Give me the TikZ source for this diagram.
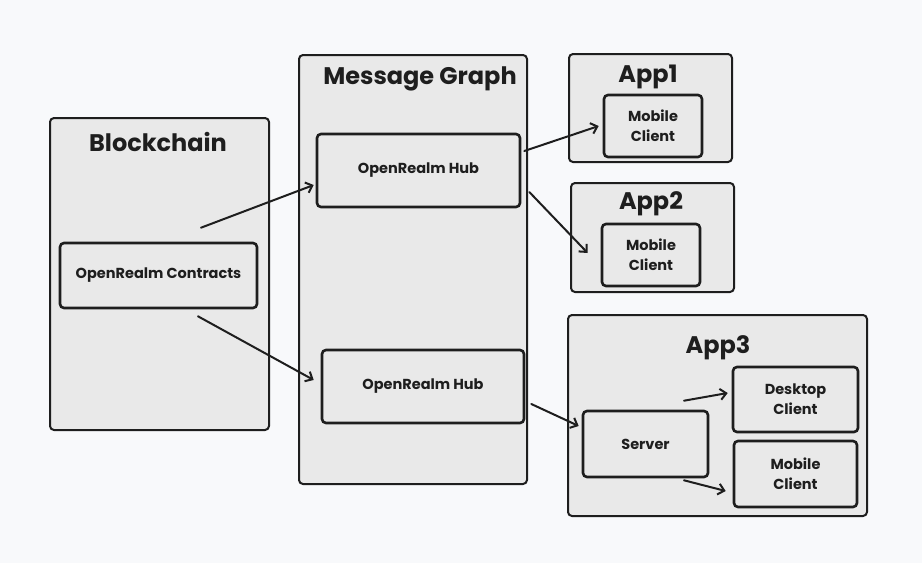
\documentclass[tikz,border=0pt]{standalone}
\usepackage{fontspec}
\setmainfont{Poppins}
\usetikzlibrary{arrows.meta}
\definecolor{bgpaper}{HTML}{F8F9FB}
\definecolor{boxfill}{HTML}{E9E9E9}
\definecolor{ink}{HTML}{1E1E1E}
\begin{document}
\begin{tikzpicture}[x=1pt, y=-1pt,
		group/.style={draw=ink, fill=boxfill, line width=2pt, rounded corners=4pt, inner sep=0pt},
		part/.style={draw=ink, fill=boxfill, line width=2.6pt, rounded corners=4pt, inner sep=0pt, align=center, font=\fontsize{14.5}{20}\selectfont\bfseries, text=ink},
		grouptitle/.style={font=\fontsize{24}{28}\selectfont\bfseries, text=ink},
		flow/.style={draw=ink, line width=2pt, line cap=round, -{Straight Barb[length=6pt, width=11pt, line width=2pt]}}]
		\useasboundingbox[fill=bgpaper] (0,0) rectangle (922,563);
		
		%--- groups
		\node[group, minimum width=219pt, minimum height=312pt] (chain) at (159.5,274) {};
		\node[grouptitle] (chaintitle) at (158,142) {Blockchain};
		\node[group, minimum width=228pt, minimum height=429pt] (graph) at (413,269.5) {};
		\node[grouptitle] (graphtitle) at (420,79) {Message Graph};
		\node[group, minimum width=163pt, minimum height=108pt] (appA) at (650.5,108) {};
		\node[grouptitle] (appAtitle) at (648,77) {App1};
		\node[group, minimum width=163pt, minimum height=109pt] (appB) at (652.5,237.5) {};
		\node[grouptitle] (appBtitle) at (651,204) {App2};
		\node[group, minimum width=299pt, minimum height=201pt] (appC) at (717.5,415.5) {};
		\node[grouptitle] (appCtitle) at (718,348) {App3};
		
		%--- parts
		\node[part, minimum width=197pt, minimum height=65pt] (contracts) at (158.5,275.5) {OpenRealm Contracts};
		\node[part, minimum width=203pt, minimum height=73pt] (hubA) at (418.5,170.5) {OpenRealm Hub};
		\node[part, minimum width=202pt, minimum height=73pt] (hubB) at (423,386.5) {OpenRealm Hub};
		\node[part, minimum width=98pt, minimum height=62pt] (mobileA) at (653,126) {Mobile\\Client};
		\node[part, minimum width=98pt, minimum height=62pt] (mobileB) at (651,255) {Mobile\\Client};
		\node[part, minimum width=125pt, minimum height=66pt] (server) at (645.5,444) {Server};
		\node[part, minimum width=125pt, minimum height=65pt] (desktop) at (795.5,399.5) {Desktop\\Client};
		\node[part, minimum width=123pt, minimum height=66pt] (mobileC) at (795.5,474) {Mobile\\Client};
		
		%--- connectors
		\draw[flow] ([xshift=42.5pt, yshift=14pt]contracts.north) -- ([xshift=-2pt, yshift=-14.5pt]hubA.west);
		\draw[flow] ([xshift=39.5pt, yshift=-7pt]contracts.south) -- ([xshift=-7pt, yshift=6.5pt]hubB.west);
		\draw[flow] ([xshift=3pt, yshift=19.5pt]hubA.east) -- ([xshift=-4pt]mobileA.west);
		\draw[flow] ([xshift=8pt, yshift=-21.5pt]hubA.east) -- ([xshift=-13pt, yshift=2pt]mobileB.west);
		\draw[flow] ([xshift=6pt, yshift=-17.5pt]hubB.east) -- ([xshift=-3pt, yshift=18pt]server.west);
		\draw[flow] ([xshift=38.5pt, yshift=9pt]server.north) -- ([xshift=-4pt, yshift=6.5pt]desktop.west);
		\draw[flow] ([xshift=38.5pt, yshift=-2pt]server.south) -- ([xshift=-7pt, yshift=-17pt]mobileC.west);
\end{tikzpicture}
\end{document}
